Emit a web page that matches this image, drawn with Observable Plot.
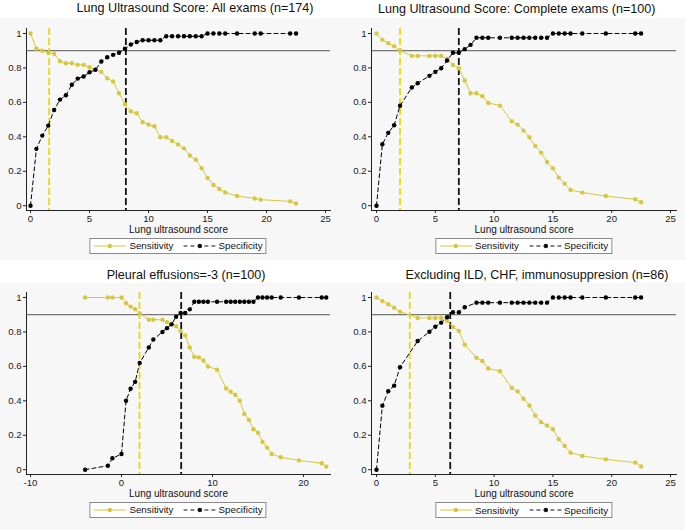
<!DOCTYPE html>
<html>
<head>
<meta charset="utf-8">
<script src="https://cdn.jsdelivr.net/npm/d3@7"></script>
<script src="https://cdn.jsdelivr.net/npm/@observablehq/plot@0.6"></script>
<style>
  body { margin: 0; background: #ffffff; font-family: "Liberation Sans", Arial, Helvetica, sans-serif; }
  #root { position: relative; width: 685px; height: 530px; overflow: hidden; background: #ffffff; }
  .band { position: absolute; left: 0; width: 685px; background: #f7f7f7; }
  .title { position: absolute; font-size: 12.6px; line-height: 1; color: #111; white-space: nowrap; transform: translateX(-50%); }
  .panel { position: absolute; }
  .legend { position: absolute; transform: translateX(-50%); border: 1px solid #8a8a8a; background: #ffffff;
            height: 14px; display: flex; align-items: center; padding: 0 3px; font-size: 9.8px; color: #111; white-space: nowrap; }
  .legend svg { display: block; }
</style>
</head>
<body>
<div id="root">
  <div class="band" style="top:18px;height:242px;"></div>
  <div class="band" style="top:283px;height:247px;"></div>
</div>
<script>
// ---------- data ----------
const titles = [
  "Lung Ultrasound Score: All exams (n=174)",
  "Lung Ultrasound Score: Complete exams (n=100)",
  "Pleural effusions=-3 (n=100)",
  "Excluding ILD, CHF, immunosuppresion (n=86)"
];
const axisLabel = "Lung ultrasound score";
const legendLabels = ["Sensitivity", "Specificity"];
const refLevel = [0.9];
const yTicks = [0, 0.2, 0.4, 0.6, 0.8, 1];
const xTicksA = [0, 5, 10, 15, 20, 25];
const xTicksB = [-10, 0, 10, 20];

// Panel 1: all exams
const score1 = [0,0.5,1,1.5,2,2.5,3,3.5,4,4.5,5,5.5,6,6.5,7,7.5,8,8.5,9,9.5,10,10.5,11,11.5,12,12.5,13,13.5,14,14.5,15,15.5,16,16.5,17.5,19,19.5,22,22.5];
const sens1 = [1.0,0.911,0.90,0.888,0.882,0.839,0.827,0.827,0.818,0.818,0.804,0.789,0.777,0.740,0.721,0.653,0.589,0.548,0.537,0.485,0.471,0.461,0.397,0.397,0.376,0.356,0.333,0.291,0.267,0.217,0.161,0.120,0.097,0.077,0.056,0.042,0.035,0.025,0.013];
const spec1 = [0,0.33,0.407,0.465,0.556,0.616,0.641,0.702,0.738,0.75,0.775,0.789,0.837,0.862,0.876,0.888,0.911,0.936,0.951,0.961,0.961,0.961,0.961,0.984,0.984,0.984,0.984,0.984,0.984,0.984,1,1,1,1,1,1,1,1,1];
const cuts1 = [1.58, 8.08];

// Panel 2: complete exams
const score2 = [0,0.5,1,1.5,2,3,3.5,4.5,5,5.5,6,6.5,7,7.5,8,8.5,9,9.5,10.5,11.5,12,12.5,13,13.5,14,14.5,15,15.5,16,16.5,17.5,19.5,22,22.5];
const sens2 = [1,0.963,0.944,0.926,0.901,0.870,0.870,0.870,0.870,0.870,0.853,0.818,0.798,0.727,0.653,0.653,0.636,0.597,0.581,0.490,0.471,0.436,0.397,0.347,0.308,0.254,0.217,0.163,0.128,0.091,0.076,0.056,0.037,0.020];
const spec2 = [0,0.357,0.423,0.467,0.58,0.686,0.711,0.754,0.777,0.798,0.843,0.888,0.888,0.909,0.934,0.975,0.975,0.975,0.975,0.975,0.975,0.975,0.975,0.975,0.975,0.975,1,1,1,1,1,1,1,1];
const cuts2 = [2.0, 7.0];

// Panel 3: pleural effusions = -3
const score3 = [-4,-1.5,-1,0,0.5,1,1.5,2,3,3.5,4.5,5,5.5,6,6.5,7,7.5,8,8.5,9,9.5,10.5,11.5,12,12.5,13,13.5,14,14.5,15,15.5,16,16.5,17.5,19.5,22,22.5];
const sens3 = [1,1,1,1,0.967,0.947,0.932,0.908,0.871,0.871,0.871,0.857,0.846,0.834,0.805,0.780,0.710,0.655,0.652,0.634,0.599,0.581,0.472,0.453,0.435,0.400,0.324,0.289,0.235,0.215,0.161,0.128,0.091,0.072,0.054,0.037,0.018];
const spec3 = [0,0.023,0.066,0.091,0.40,0.47,0.51,0.62,0.71,0.756,0.80,0.822,0.844,0.888,0.91,0.91,0.931,0.975,0.975,0.975,0.975,0.975,0.975,0.975,0.975,0.975,0.975,0.975,0.975,1,1,1,1,1,1,1,1];
const cuts3 = [1.98, 6.56];

// Panel 4: excluding ILD, CHF, immunosuppression
const score4 = [0,0.5,1,1.5,2,3.5,4.5,5,5.5,6,6.5,7,7.5,8.5,9,9.5,10.5,11.5,12,12.5,13,13.5,14,14.5,15,15.5,16,16.5,17.5,19.5,22,22.5];
const sens4 = [1,0.979,0.961,0.940,0.918,0.881,0.881,0.881,0.881,0.864,0.829,0.805,0.726,0.650,0.631,0.588,0.572,0.475,0.455,0.412,0.373,0.315,0.276,0.257,0.235,0.177,0.138,0.099,0.080,0.060,0.041,0.019];
const spec4 = [0,0.372,0.456,0.488,0.595,0.747,0.801,0.83,0.854,0.885,0.914,0.914,0.943,0.97,0.97,0.97,0.97,0.97,0.97,0.97,0.97,0.97,0.97,0.97,1,1,1,1,1,1,1,1];
const cuts4 = [2.83, 6.27];

// ---------- styles ----------
const sensColor = "#d6c83c";
const sensCutColor = "#e4d914";
const specColor = "#000000";
const yDomain = [-0.028, 1.029];

const panels = [
  {score: score1, sens: sens1, spec: spec1, cuts: cuts1, title: titles[0], left: 0,   top: 0,   width: 340, ml: 26, mr: 10, xdomain: [-0.34, 25.42], xticks: xTicksA, titleX: 195,   titleTop: 2,     labelDy: 22, legendTop: 237.5},
  {score: score2, sens: sens2, spec: spec2, cuts: cuts2, title: titles[1], left: 340, top: 0,   width: 345, ml: 31, mr: 9,  xdomain: [-0.425, 25.51], xticks: xTicksA, titleX: 516.7, titleTop: 2.6,   labelDy: 22, legendTop: 237.5},
  {score: score3, sens: sens3, spec: spec3, cuts: cuts3, title: titles[2], left: 0,   top: 264, width: 340, ml: 26, mr: 10, xdomain: [-10.44, 22.97], xticks: xTicksB, titleX: 186,   titleTop: 268.6, labelDy: 22, legendTop: 501.5},
  {score: score4, sens: sens4, spec: spec4, cuts: cuts4, title: titles[3], left: 340, top: 264, width: 345, ml: 31, mr: 9,  xdomain: [-0.425, 25.51], xticks: xTicksA, titleX: 537,   titleTop: 269.3, labelDy: 22, legendTop: 502}
];

const root = document.getElementById("root");
const H = 236;

function swatch(color, dashed) {
  const ns = "http://www.w3.org/2000/svg";
  const svg = document.createElementNS(ns, "svg");
  svg.setAttribute("width", 33); svg.setAttribute("height", 12);
  const l = document.createElementNS(ns, "line");
  l.setAttribute("x1", 0); l.setAttribute("x2", 33); l.setAttribute("y1", 6); l.setAttribute("y2", 6);
  l.setAttribute("stroke", color); l.setAttribute("stroke-width", 1);
  if (dashed) l.setAttribute("stroke-dasharray", "4,3");
  const c = document.createElementNS(ns, "circle");
  c.setAttribute("cx", 16.5); c.setAttribute("cy", 6); c.setAttribute("r", 2.2); c.setAttribute("fill", color);
  svg.append(l, c);
  return svg;
}

for (const p of panels) {
  const data = p.score.map((s, i) => ({score: s, sens: p.sens[i], spec: p.spec[i]}));
  const chart = Plot.plot({
    width: p.width, height: H,
    marginLeft: p.ml, marginRight: p.mr, marginTop: 28, marginBottom: 26,
    style: {background: "transparent", fontFamily: "'Liberation Sans', Arial, sans-serif", fontSize: "9.6px", color: "#222", overflow: "visible"},
    x: {domain: p.xdomain, ticks: p.xticks, tickFormat: d => String(d), tickSize: 3, tickPadding: 1.5, label: null, line: true},
    y: {domain: yDomain, ticks: yTicks, tickFormat: d => String(d), tickSize: 3, tickPadding: 2, label: null, line: true},
    marks: [
      Plot.ruleY(refLevel, {stroke: "#555", strokeWidth: 1}),
      Plot.ruleX([p.cuts[0]], {stroke: sensCutColor, strokeWidth: 1.8, strokeDasharray: "7,3"}),
      Plot.ruleX([p.cuts[1]], {stroke: "#111", strokeWidth: 1.8, strokeDasharray: "7,3"}),
      Plot.line(data, {x: "score", y: "sens", stroke: sensColor, strokeWidth: 1}),
      Plot.dot(data, {x: "score", y: "sens", r: 2.2, fill: sensColor}),
      Plot.line(data, {x: "score", y: "spec", stroke: specColor, strokeWidth: 1, strokeDasharray: "4,3"}),
      Plot.dot(data, {x: "score", y: "spec", r: 2.2, fill: specColor}),
      Plot.text([axisLabel], {frameAnchor: "bottom", dy: p.labelDy, text: d => d, fontSize: 10, fill: "#111"})
    ]
  });
  const wrap = document.createElement("div");
  wrap.className = "panel";
  wrap.style.left = p.left + "px"; wrap.style.top = p.top + "px";
  wrap.append(chart);
  root.append(wrap);

  const t = document.createElement("div");
  t.className = "title";
  t.style.left = p.titleX + "px"; t.style.top = p.titleTop + "px";
  t.textContent = p.title;
  root.append(t);

  const lg = document.createElement("div");
  lg.className = "legend";
  const frameCenter = p.left + p.ml + (p.width - p.ml - p.mr) / 2;
  lg.style.left = frameCenter + "px"; lg.style.top = p.legendTop + "px";
  const s1 = document.createElement("span"); s1.textContent = legendLabels[0]; s1.style.margin = "0 10px 0 3px";
  const s2 = document.createElement("span"); s2.textContent = legendLabels[1]; s2.style.marginLeft = "2px";
  lg.append(swatch(sensColor, false), s1, swatch("#111", true), s2);
  root.append(lg);
}
</script>
</body>
</html>
